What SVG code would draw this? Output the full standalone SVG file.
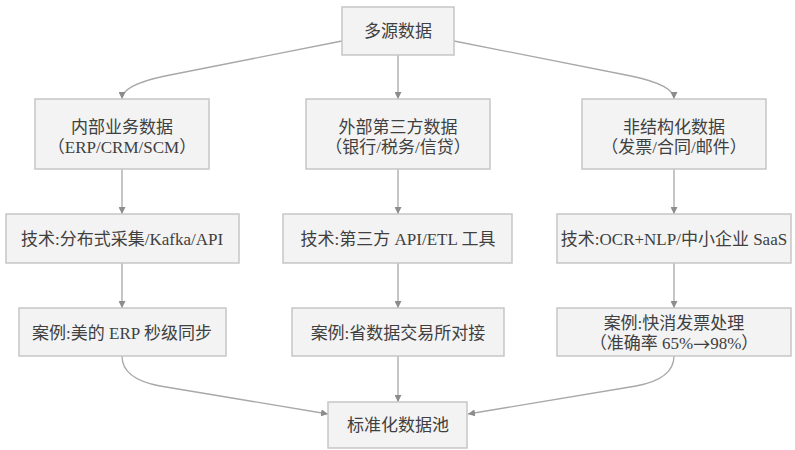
<svg xmlns="http://www.w3.org/2000/svg" width="795" height="450" viewBox="0 0 795 450">
<style>
.bg{fill:#ffffff}
.node rect{fill:#f3f3f3;stroke:#c6c6c6;stroke-width:1.5}
.node text{font-family:"Liberation Serif","Noto Sans CJK SC",serif;font-size:17px;fill:#404040;text-anchor:middle;dominant-baseline:central}
.cjk{font-family:"Noto Sans CJK SC",sans-serif}
.edge{fill:none;stroke:#a8a8a8;stroke-width:1.3;marker-end:url(#arr)}
</style>
<defs>
<marker id="arr" viewBox="0 0 10 10" refX="10" refY="5" markerWidth="7" markerHeight="7" markerUnits="userSpaceOnUse" orient="auto">
<path d="M0,0 L10,5 L0,10 Z" fill="#8c8c8c"/>
</marker>
</defs>
<rect class="bg" width="795" height="450"/>
<g id="connectors">
<path class="edge" d="M342,41 L165,76 Q122,85 122,99"/>
<path class="edge" d="M398,55 L398,99"/>
<path class="edge" d="M454,41 L631,76 Q674,85 674,99"/>
<path class="edge" d="M122,169 L122,214"/>
<path class="edge" d="M398,169 L398,214"/>
<path class="edge" d="M674,169 L674,214"/>
<path class="edge" d="M122,263 L122,308"/>
<path class="edge" d="M398,263 L398,308"/>
<path class="edge" d="M674,263 L674,308"/>
<path class="edge" d="M122,356 Q122,379 160,386 L328,414"/>
<path class="edge" d="M398,356 L398,402"/>
<path class="edge" d="M674,356 Q674,379 636,386 L468,414"/>
</g>
<g id="n-source" class="node"><rect x="342" y="7" width="112" height="48"/><text x="398" y="31">多源数据</text></g>
<g id="n-internal" class="node"><rect x="35" y="99" width="174" height="70"/><text x="122" y="127">内部业务数据</text><text x="122" y="147">（ERP/CRM/SCM）</text></g>
<g id="n-external" class="node"><rect x="306" y="99" width="184" height="70"/><text x="398" y="127">外部第三方数据</text><text x="398" y="147">（银行/税务/信贷）</text></g>
<g id="n-unstructured" class="node"><rect x="582" y="99" width="184" height="70"/><text x="674" y="127">非结构化数据</text><text x="674" y="147">（发票/合同/邮件）</text></g>
<g id="n-tech1" class="node"><rect x="6" y="214" width="233" height="49"/><text x="122" y="239">技术:分布式采集/Kafka/API</text></g>
<g id="n-tech2" class="node"><rect x="283" y="214" width="229" height="49"/><text x="398" y="239">技术:第三方 API/ETL 工具</text></g>
<g id="n-tech3" class="node"><rect x="557" y="214" width="234" height="49"/><text x="674" y="239">技术:OCR+NLP/中小企业 SaaS</text></g>
<g id="n-case1" class="node"><rect x="19" y="308" width="207" height="48"/><text x="122" y="333">案例:美的 ERP 秒级同步</text></g>
<g id="n-case2" class="node"><rect x="292" y="308" width="212" height="48"/><text x="398" y="333">案例:省数据交易所对接</text></g>
<g id="n-case3" class="node"><rect x="557" y="308" width="234" height="48"/><text x="674" y="323">案例:快消发票处理</text><text x="674" y="343">（准确率 65%<tspan class="cjk">→</tspan>98%）</text></g>
<g id="n-pool" class="node"><rect x="328" y="402" width="139" height="46"/><text x="398" y="425">标准化数据池</text></g>
</svg>
